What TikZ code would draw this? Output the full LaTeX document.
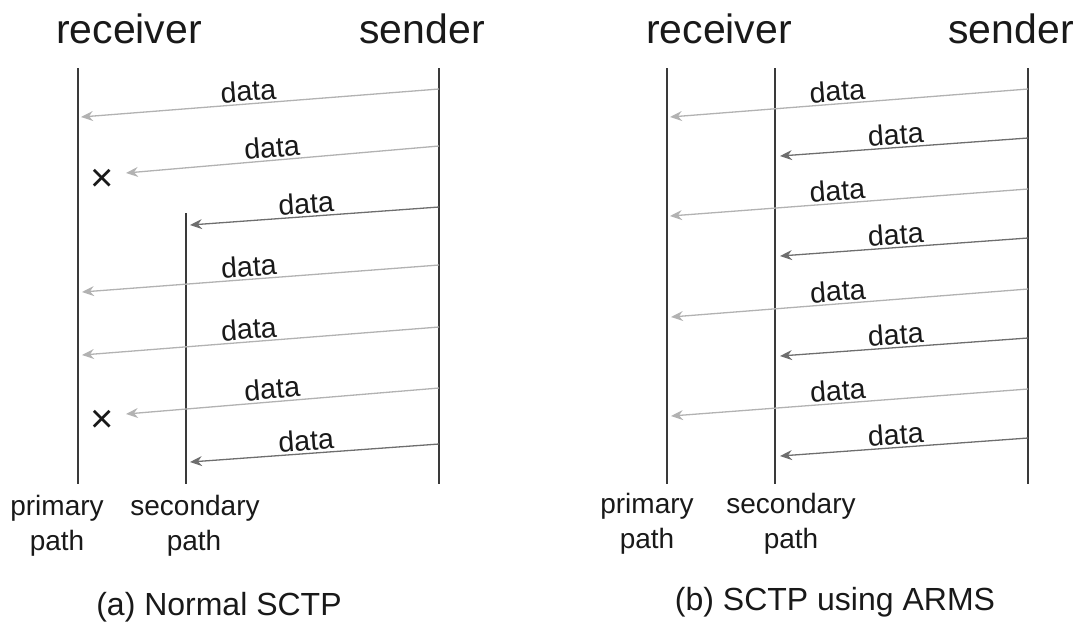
\documentclass[tikz,border=0pt]{standalone}
\usepackage{fontspec}
\setmainfont{Liberation Sans}
\usetikzlibrary{arrows.meta}
\definecolor{litegray}{HTML}{B2B2B2}
\definecolor{dimgray}{HTML}{6E6E6E}
\definecolor{linegray}{HTML}{3A3A3A}

\begin{document}
\begin{tikzpicture}[x=0.5pt,y=-0.5pt,
  lifeline/.style={draw=linegray,line width=1pt},
  litearrow/.style={draw=litegray,line width=0.65pt,-{Stealth[length=6pt,width=5pt,inset=2pt]}},
  dimarrow/.style={draw=dimgray,line width=0.65pt,-{Stealth[length=6pt,width=5pt,inset=2pt]}},
  lbl/.style={above,sloped,pos=0.53,inner sep=1pt,text=black!90,font=\fontsize{14.3}{16}\selectfont},
  head/.style={anchor=base,text=black!90,font=\fontsize{20.5}{24}\selectfont},
  pathlbl/.style={anchor=base,text=black!90,font=\fontsize{14}{17}\selectfont},
  capt/.style={anchor=base,text=black!90,font=\fontsize{16}{19}\selectfont},
  lost/.style={text=black!90,font=\fontsize{20}{24}\selectfont}]

\useasboundingbox (0,0) rectangle (1079,623);

%(a) Normal SCTP
\node[head] (rcvA) at (129,43) {receiver};
\node[head] (sndA) at (422,43) {sender};

\coordinate (priAt) at (78,68);  \coordinate (priAb) at (78,484);
\coordinate (secAt) at (186,213); \coordinate (secAb) at (186,484);
\coordinate (sndAt) at (439,68); \coordinate (sndAb) at (439,484);
\draw[lifeline] (priAt) -- (priAb);
\draw[lifeline] (secAt) -- (secAb);
\draw[lifeline] (sndAt) -- (sndAb);

\coordinate (a1s) at (439,89);  \coordinate (a1r) at (81,117);
\coordinate (a2s) at (439,146); \coordinate (a2r) at (126,173);
\coordinate (a3s) at (439,207); \coordinate (a3r) at (190,225);
\coordinate (a4s) at (439,265); \coordinate (a4r) at (82,292);
\coordinate (a5s) at (439,327); \coordinate (a5r) at (82,355);
\coordinate (a6s) at (439,388); \coordinate (a6r) at (126,414);
\coordinate (a7s) at (439,444); \coordinate (a7r) at (190,462);

\path (a1s) edge[litearrow] node[lbl] {data} (a1r);
\path (a2s) edge[litearrow] node[lbl] {data} (a2r);
\path (a3s) edge[dimarrow] node[lbl] {data} (a3r);
\path (a4s) edge[litearrow] node[lbl] {data} (a4r);
\path (a5s) edge[litearrow] node[lbl] {data} (a5r);
\path (a6s) edge[litearrow] node[lbl] {data} (a6r);
\path (a7s) edge[dimarrow] node[lbl] {data} (a7r);

\node[lost] (xA1) at (102,180) {×};
\node[lost] (xA2) at (102,421) {×};

\node[pathlbl] (priA1) at (57,515) {primary};
\node[pathlbl] (priA2) at (57,550) {path};
\node[pathlbl] (secA1) at (195,515) {secondary};
\node[pathlbl] (secA2) at (194,550) {path};
\node[capt] (captA) at (219,615) {(a) Normal SCTP};

%(b) SCTP using ARMS
\node[head] (rcvB) at (719,43) {receiver};
\node[head] (sndB) at (1011,43) {sender};

\coordinate (priBt) at (667,68);  \coordinate (priBb) at (667,484);
\coordinate (secBt) at (775,68);  \coordinate (secBb) at (775,484);
\coordinate (sndBt) at (1028,68); \coordinate (sndBb) at (1028,484);
\draw[lifeline] (priBt) -- (priBb);
\draw[lifeline] (secBt) -- (secBb);
\draw[lifeline] (sndBt) -- (sndBb);

\coordinate (b1s) at (1028,89);  \coordinate (b1r) at (670,117);
\coordinate (b2s) at (1028,138); \coordinate (b2r) at (780,156);
\coordinate (b3s) at (1028,189); \coordinate (b3r) at (670,216);
\coordinate (b4s) at (1028,238); \coordinate (b4r) at (780,256);
\coordinate (b5s) at (1028,289); \coordinate (b5r) at (671,317);
\coordinate (b6s) at (1028,338); \coordinate (b6r) at (780,356);
\coordinate (b7s) at (1028,389); \coordinate (b7r) at (671,416);
\coordinate (b8s) at (1028,438); \coordinate (b8r) at (780,456);

\path (b1s) edge[litearrow] node[lbl] {data} (b1r);
\path (b2s) edge[dimarrow] node[lbl] {data} (b2r);
\path (b3s) edge[litearrow] node[lbl] {data} (b3r);
\path (b4s) edge[dimarrow] node[lbl] {data} (b4r);
\path (b5s) edge[litearrow] node[lbl] {data} (b5r);
\path (b6s) edge[dimarrow] node[lbl] {data} (b6r);
\path (b7s) edge[litearrow] node[lbl] {data} (b7r);
\path (b8s) edge[dimarrow] node[lbl] {data} (b8r);

\node[pathlbl] (priB1) at (647,513) {primary};
\node[pathlbl] (priB2) at (647,548) {path};
\node[pathlbl] (secB1) at (791,513) {secondary};
\node[pathlbl] (secB2) at (791,548) {path};
\node[capt] (captB) at (835,610) {(b) SCTP using ARMS};
\end{tikzpicture}
\end{document}
